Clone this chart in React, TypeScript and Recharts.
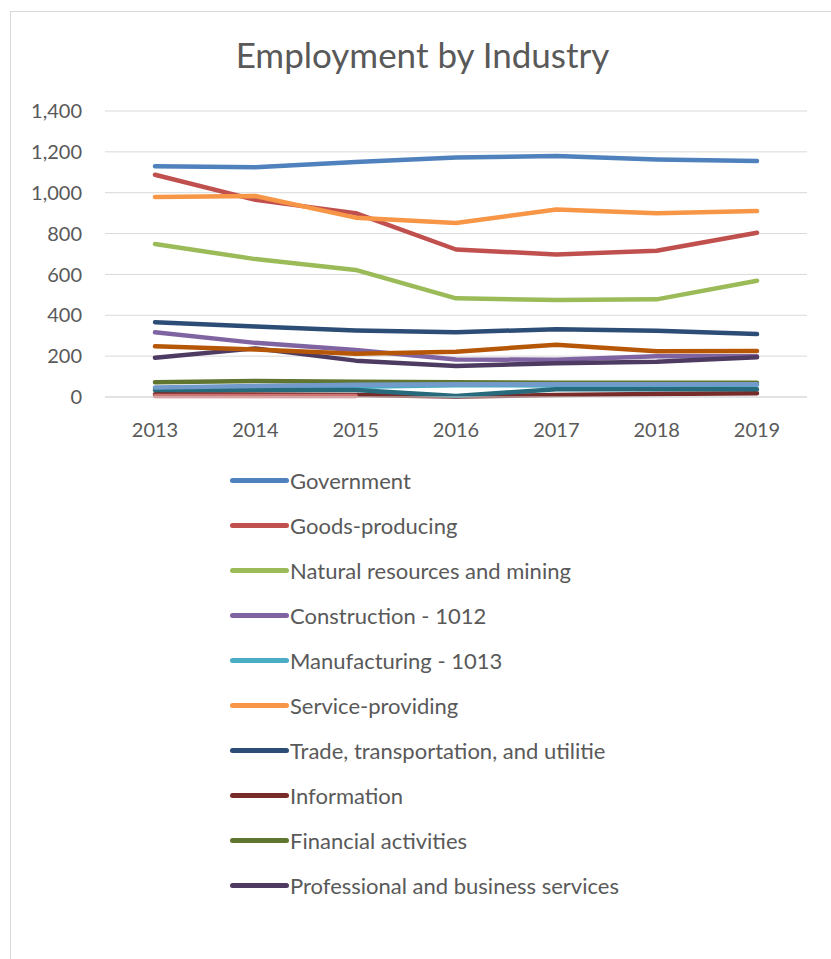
import { CartesianGrid, Legend, Line, LineChart, XAxis, YAxis } from "recharts";

const years = ["2013", "2014", "2015", "2016", "2017", "2018", "2019"];
const yTicks = [0, 200, 400, 600, 800, 1000, 1200, 1400];

const government = [1130, 1125, 1150, 1172, 1180, 1163, 1155];
const goodsProducing = [1088, 965, 900, 722, 698, 716, 804];
const naturalResources = [749, 675, 622, 483, 475, 478, 569];
const construction = [317, 265, 230, 184, 182, 200, 200];
const manufacturing = [40, 45, 50, 58, 56, 58, 60];
const serviceProviding = [979, 984, 878, 852, 918, 900, 910];
const trade = [366, 345, 326, 317, 332, 324, 308];
const information = [14, 12, 10, 2, 10, 15, 18];
const financial = [72, 78, 75, 72, 70, 70, 70];
const professional = [192, 238, 178, 152, 165, 172, 194];
// series beyond the visible legend
const education = [34, 36, 34, 5, 38, 38, 38];
const leisure = [248, 232, 212, 222, 256, 224, 225];
const otherServices = [46, 54, 60, 62, 62, 62, 62];
const unclassified = [5, 5, 5, null, null, null, null];

const series = [
  { key: "Government", values: government, color: "#4F81BD", legend: true },
  { key: "Goods-producing", values: goodsProducing, color: "#C0504D", legend: true },
  { key: "Natural resources and mining", values: naturalResources, color: "#9BBB59", legend: true },
  { key: "Construction - 1012", values: construction, color: "#8064A2", legend: true },
  { key: "Manufacturing - 1013", values: manufacturing, color: "#4BACC6", legend: true },
  { key: "Service-providing", values: serviceProviding, color: "#F79646", legend: true },
  { key: "Trade, transportation, and utilitie", values: trade, color: "#2C4D75", legend: true },
  { key: "Information", values: information, color: "#772C2A", legend: true },
  { key: "Financial activities", values: financial, color: "#5F7530", legend: true },
  { key: "Professional and business services", values: professional, color: "#4D3B62", legend: true },
  { key: "Education and health services", values: education, color: "#276A7C", legend: false },
  { key: "Leisure and hospitality", values: leisure, color: "#B65708", legend: false },
  { key: "Other services", values: otherServices, color: "#729ACA", legend: false },
  { key: "Unclassified", values: unclassified, color: "#CD7371", legend: false },
];

const data = years.map((year, i) => {
  const row: Record<string, string | number | null> = { year };
  series.forEach((s) => {
    row[s.key] = s.values[i];
  });
  return row;
});

const FONT = "Lato, 'Open Sans', sans-serif";
const TEXT = "#595959";

function LegendBox() {
  const items = series.filter((s) => s.legend);
  return (
    <div style={{ fontFamily: FONT, fontSize: 22, color: TEXT }}>
      {items.map((s) => (
        <div key={s.key} style={{ display: "flex", alignItems: "center", height: 45 }}>
          <div
            style={{
              width: 59,
              height: 5,
              borderRadius: 3,
              background: s.color,
              marginRight: 1,
            }}
          />
          <span style={{ whiteSpace: "nowrap" }}>{s.key}</span>
        </div>
      ))}
    </div>
  );
}

export default function App() {
  return (
    <div
      style={{
        position: "absolute",
        top: 0,
        left: 0,
        width: 831,
        height: 959,
        background: "#fff",
        overflow: "hidden",
      }}
    >
      <div
        style={{
          position: "absolute",
          left: 10,
          top: 11,
          width: 840,
          height: 960,
          border: "1px solid #D9D9D9",
        }}
      />
      <div
        style={{
          position: "absolute",
          top: 33,
          left: 0,
          width: 845,
          textAlign: "center",
          fontFamily: FONT,
          fontSize: 35,
          color: TEXT,
        }}
      >
        Employment by Industry
      </div>
      <div style={{ position: "absolute", top: 0, left: 0 }}>
        <LineChart
          width={831}
          height={959}
          data={data}
          margin={{ top: 111, right: 24, bottom: 522, left: 0 }}
        >
          <CartesianGrid stroke="#D9D9D9" vertical={false} />
          <XAxis
            dataKey="year"
            height={40}
            padding={{ left: 50, right: 50 }}
            axisLine={{ stroke: "#D9D9D9" }}
            tickLine={false}
            tick={{ fill: TEXT, fontSize: 20, fontFamily: FONT, dy: 18 }}
          />
          <YAxis
            width={105}
            domain={[0, 1400]}
            ticks={yTicks}
            axisLine={false}
            tickLine={false}
            tickFormatter={(v: number) => v.toLocaleString("en-US")}
            tick={{ fill: TEXT, fontSize: 20, fontFamily: FONT, dx: -15 }}
          />
          <Legend
            layout="vertical"
            align="center"
            verticalAlign="middle"
            content={() => <LegendBox />}
            wrapperStyle={{ position: "absolute", left: 230, top: 458, width: 460 }}
          />
          {series.map((s) => (
            <Line
              key={s.key}
              dataKey={s.key}
              stroke={s.color}
              strokeWidth={4.5}
              strokeLinecap="round"
              strokeLinejoin="round"
              dot={false}
              activeDot={false}
              isAnimationActive={false}
              connectNulls={false}
            />
          ))}
        </LineChart>
      </div>
    </div>
  );
}
